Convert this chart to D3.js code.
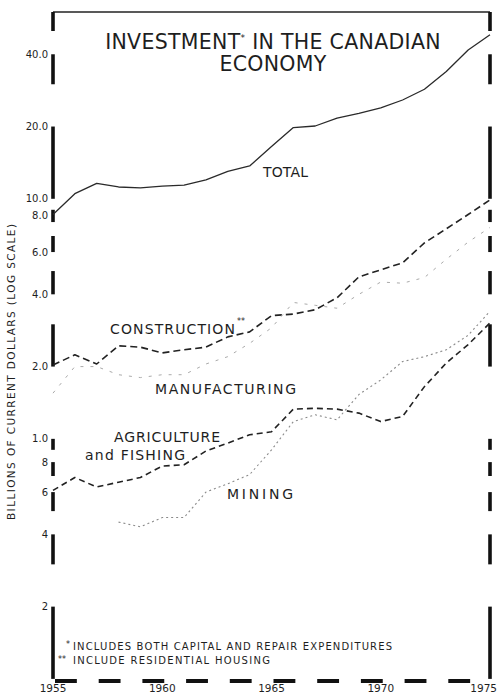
<!DOCTYPE html>
<html>
<head>
<meta charset="utf-8">
<script src="https://cdn.jsdelivr.net/npm/d3@7"></script>
<style>
  html, body { margin: 0; padding: 0; background: #fff; }
  svg { display: block; }
  text { font-family: "DejaVu Sans", sans-serif; fill: #1e1e1e; }
</style>
</head>
<body>
<svg id="chart" width="498" height="694"></svg>
<script>
// Investment in the Canadian economy, billions of current dollars (log scale)
const years = d3.range(1955, 1976);

const total        = [8.6, 10.5, 11.6, 11.2, 11.1, 11.3, 11.4, 12.0, 13.0, 13.7, 16.5, 19.8, 20.1, 21.7, 22.7, 23.9, 25.8, 28.6, 33.9, 41.7, 48.2];
const construction = [2.03, 2.24, 2.05, 2.44, 2.41, 2.28, 2.35, 2.41, 2.66, 2.79, 3.26, 3.31, 3.45, 3.87, 4.73, 5.06, 5.41, 6.55, 7.5, 8.6, 9.9];
const manufacturing = [1.55, 2.0, 2.0, 1.85, 1.8, 1.85, 1.85, 2.05, 2.2, 2.5, 2.9, 3.7, 3.6, 3.5, 4.0, 4.5, 4.45, 4.7, 5.6, 6.6, 7.6];
const agriculture  = [0.61, 0.69, 0.63, 0.66, 0.69, 0.77, 0.78, 0.89, 0.96, 1.04, 1.07, 1.33, 1.34, 1.33, 1.28, 1.18, 1.24, 1.65, 2.07, 2.47, 3.04];
const mining       = [null, null, null, 0.45, 0.43, 0.47, 0.47, 0.6, 0.65, 0.71, 0.9, 1.18, 1.26, 1.2, 1.53, 1.76, 2.1, 2.2, 2.35, 2.7, 3.4];

// value axis ticks and their printed labels
const tickValues = [40, 20, 10, 8, 6, 4, 2, 1, 0.8, 0.6, 0.4, 0.2];
const tickLabels = ["40.0", "20.0", "10.0", "8.0", "6.0", "4.0", "2.0", "1.0", "8", "6", "4", "2"];

// heavy bands drawn on both side rules of the log paper
const ruleBands = [[60, 50], [40, 30], [20, 10], [9, 8], [7, 6], [5, 4], [3, 2], [1, 0.9], [0.8, 0.7], [0.6, 0.5], [0.4, 0.3], [0.2, 0.1]];

const yearTicks = [1955, 1960, 1965, 1970, 1975];

const svg = d3.select("#chart");
const W = 498, H = 694;
svg.append("rect").attr("width", W).attr("height", H).attr("fill", "#fff");

const x = d3.scaleLinear().domain([1955, 1975]).range([53, 490]);
const y = d3.scaleLog().domain([0.098, 60]).range([681, 12]);

// ---- frame ----
const frame = svg.append("g");
frame.append("line")
  .attr("x1", x(1955)).attr("x2", x(1975))
  .attr("y1", y(60)).attr("y2", y(60))
  .attr("stroke", "#222").attr("stroke-width", 1.4);

[1955, 1975].forEach(yr => {
  frame.selectAll(null).data(ruleBands).enter().append("line")
    .attr("x1", x(yr)).attr("x2", x(yr))
    .attr("y1", d => y(d[0])).attr("y2", d => y(d[1]))
    .attr("stroke", "#111").attr("stroke-width", 3.6);
});

// bottom rule: one heavy dash every other year
const yearStep = x(1956) - x(1955);
frame.append("line")
  .attr("x1", x(1955) + 2).attr("x2", x(1975))
  .attr("y1", y(0.098)).attr("y2", y(0.098))
  .attr("stroke", "#111").attr("stroke-width", 4)
  .attr("stroke-dasharray", `${yearStep} ${yearStep}`);

// ---- value tick labels ----
svg.append("g").selectAll("text").data(tickValues).enter().append("text")
  .attr("x", 48)
  .attr("y", (d, i) => y(d) + (d === 8 ? -7 : 0))
  .attr("dy", "0.35em")
  .attr("text-anchor", "end")
  .attr("font-size", 10)
  .attr("fill", "#333")
  .text((d, i) => tickLabels[i]);

// ---- year labels (the last one is kept inside the page edge) ----
svg.append("g").selectAll("text").data(yearTicks).enter().append("text")
  .attr("x", d => d === 1975 ? W - 1 : x(d))
  .attr("y", 692)
  .attr("text-anchor", d => d === 1975 ? "end" : "middle")
  .attr("font-size", 10.5)
  .attr("fill", "#333")
  .text(d => d);

// ---- axis title ----
svg.append("text")
  .attr("transform", "translate(15,372) rotate(-90)")
  .attr("text-anchor", "middle")
  .attr("font-size", 10.5)
  .attr("textLength", 296)
  .attr("lengthAdjust", "spacing")
  .attr("fill", "#333")
  .text("BILLIONS OF CURRENT DOLLARS (LOG SCALE)");

// ---- series ----
const series = [
  { name: "total", values: total, color: "#2a2a2a", width: 1.3, dash: null },
  { name: "construction", values: construction, color: "#222", width: 1.6, dash: "7,4" },
  { name: "manufacturing", values: manufacturing, color: "#aaa", width: 1, dash: "3,7" },
  { name: "agriculture", values: agriculture, color: "#222", width: 1.6, dash: "6,4" },
  { name: "mining", values: mining, color: "#8a8a8a", width: 1.1, dash: "2,3" }
];

const line = d3.line()
  .defined(d => d.v != null)
  .x(d => x(d.year))
  .y(d => y(d.v));

svg.append("g").selectAll("path").data(series).enter().append("path")
  .attr("d", s => line(years.map((yr, i) => ({ year: yr, v: s.values[i] }))))
  .attr("fill", "none")
  .attr("stroke", s => s.color)
  .attr("stroke-width", s => s.width)
  .attr("stroke-dasharray", s => s.dash)
  .attr("stroke-linejoin", "round");

// ---- title ----
const title = svg.append("text")
  .attr("x", 273).attr("y", 49)
  .attr("text-anchor", "middle")
  .attr("font-size", 20.5)
  .attr("letter-spacing", 0.3)
  .attr("fill", "#2a2a2a");
title.append("tspan").text("INVESTMENT");
title.append("tspan").attr("font-size", 9).attr("dy", -8).text("*");
title.append("tspan").attr("dy", 8).text(" IN THE CANADIAN");

svg.append("text")
  .attr("x", 273).attr("y", 71)
  .attr("text-anchor", "middle")
  .attr("font-size", 20.5)
  .attr("letter-spacing", 0.3)
  .attr("fill", "#2a2a2a")
  .text("ECONOMY");

// ---- series labels ----
const labels = [
  { text: "TOTAL", x: 263, y: 177, len: 45 },
  { text: "CONSTRUCTION", x: 110, y: 334, len: 125 },
  { text: "MANUFACTURING", x: 155, y: 394, len: 141 },
  { text: "AGRICULTURE", x: 114, y: 442, len: 106 },
  { text: "and FISHING", x: 85, y: 460, len: 100 },
  { text: "MINING", x: 227, y: 499, len: 66 }
];
svg.append("g").selectAll("text").data(labels).enter().append("text")
  .attr("x", d => d.x).attr("y", d => d.y)
  .attr("font-size", 14)
  .attr("textLength", d => d.len)
  .attr("lengthAdjust", "spacing")
  .text(d => d.text);

svg.append("text")
  .attr("x", 237).attr("y", 324)
  .attr("font-size", 8)
  .text("**");

// ---- footnotes ----
svg.append("text").attr("x", 66).attr("y", 647).attr("font-size", 8).text("*");
svg.append("text")
  .attr("x", 73).attr("y", 650)
  .attr("font-size", 10)
  .attr("textLength", 319)
  .attr("lengthAdjust", "spacing")
  .text("INCLUDES BOTH CAPITAL AND REPAIR EXPENDITURES");
svg.append("text").attr("x", 58).attr("y", 662).attr("font-size", 8).text("**");
svg.append("text")
  .attr("x", 73).attr("y", 664)
  .attr("font-size", 10)
  .attr("textLength", 197)
  .attr("lengthAdjust", "spacing")
  .text("INCLUDE  RESIDENTIAL HOUSING");
</script>
</body>
</html>
